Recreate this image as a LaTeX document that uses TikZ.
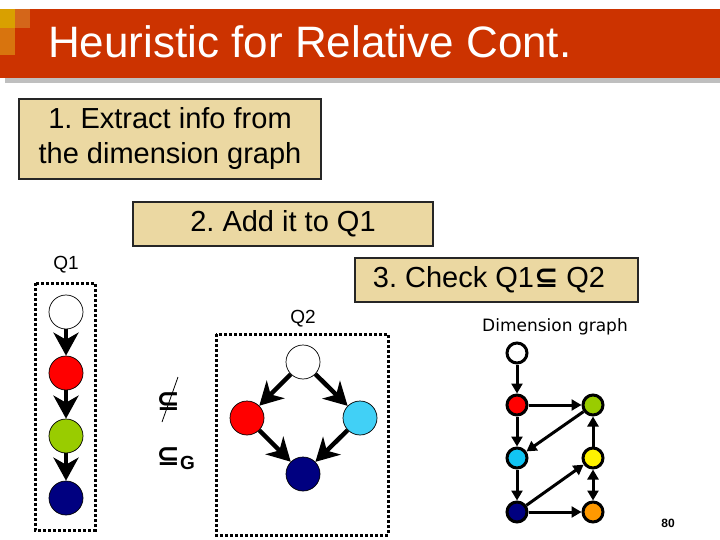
\documentclass[tikz,border=0pt]{standalone}
\usepackage{fontspec}
\setmainfont{Liberation Sans}
\newfontfamily\symfont{DejaVu Sans}
\usetikzlibrary{arrows.meta}
\definecolor{titlered}{HTML}{CC3300}
\definecolor{sqgold}{HTML}{D9A000}
\definecolor{sqorange}{HTML}{D4661A}
\definecolor{sqorange2}{HTML}{D8740E}
\definecolor{boxtan}{HTML}{EBD8A2}
\definecolor{dgreen}{HTML}{99CC00}
\definecolor{dcyan}{HTML}{11C4F4}
\definecolor{dnavy}{HTML}{000080}
\definecolor{dorange}{HTML}{FF9900}
\tikzset{
  stepbox/.style={draw=black!85, line width=1.2pt, fill=boxtan, inner sep=0pt, align=center, font=\frenchspacing\fontsize{29}{35}\selectfont},
  steptext/.style={inner sep=0pt, font=\frenchspacing\fontsize{29}{35}\selectfont},
  bigdot/.style={circle, draw=black, line width=0.7pt, minimum size=34pt, inner sep=0pt},
  smalldot/.style={circle, draw=black, line width=3pt, minimum size=20pt, inner sep=0pt},
  bigarrow/.style={line width=4.5pt, -{Stealth[length=23pt 0,width=25pt 0,inset=7pt 0]}},
  dimarrow/.style={line width=3pt, -{Triangle[length=10pt,width=11pt]}},
  dimarrow2/.style={line width=3pt, {Triangle[length=10pt,width=11pt]}-{Triangle[length=10pt,width=11pt]}},
  dottedframe/.style={line width=3pt, dash pattern=on 3pt off 2pt},
  lbl/.style={inner sep=0pt, font=\fontsize{19}{22}\selectfont},
  relsym/.style={inner sep=0pt, font=\symfont\bfseries\fontsize{28}{32}\selectfont}
}
\begin{document}
\begin{tikzpicture}[x=1pt,y=-1pt]
\useasboundingbox (0,0) rectangle (720,540);
% title bar
\fill[black!25] (5,78) rectangle (720,83);
\fill[titlered] (0,9) rectangle (720,78);
\fill[sqgold] (0,9) rectangle (15,28);
\fill[sqorange] (15,9) rectangle (30,28);
\fill[sqorange2] (0,28) rectangle (15,55);
\node[anchor=base west, inner sep=0pt, text=white, font=\fontsize{44}{50}\selectfont] (title) at (48,58) {Heuristic for Relative Cont.};
% step boxes
\node[stepbox, minimum width=302pt, minimum height=80pt] (s1) at (170,139) {1. Extract info from\\the dimension graph};
\node[stepbox, minimum width=300pt, minimum height=44pt] (s2) at (283,224) {2. Add it to Q1};
\node[stepbox, minimum width=283pt, minimum height=44pt] (s3) at (496.5,280) {};
\node[steptext] (s3t) at (489,280) {3. Check Q1{\symfont\bfseries ⊆} Q2};
% Q1
\node[lbl] (q1lbl) at (66,265) {Q1};
\draw[dottedframe] (35,283) rectangle (95,530);
\node[bigdot, fill=white] (a1) at (66,312) {};
\node[bigdot, fill=red] (a2) at (66,373) {};
\node[bigdot, fill=dgreen] (a3) at (66,436) {};
\node[bigdot, fill=dnavy] (a4) at (66,498) {};
\draw[bigarrow] (a1) -- (a2);
\draw[bigarrow] (a2) -- (a3);
\draw[bigarrow] (a3) -- (a4);
% relations
\node[relsym] (nsub) at (168,402) {⊆};
\coordinate (sl1) at (178,377);
\coordinate (sl2) at (162,422);
\draw[line width=0.8pt] (sl1) -- (sl2);
\node[relsym] (subg) at (168,457) {⊆};
\node[anchor=west, inner sep=0pt, font=\bfseries\fontsize{19}{22}\selectfont] (gsub) at (180,463) {G};
% Q2
\node[lbl] (q2lbl) at (303,319) {Q2};
\draw[dottedframe] (216,334) rectangle (388,535);
\node[bigdot, fill=white] (b1) at (303,362) {};
\node[bigdot, fill=red] (b2) at (247,418) {};
\node[bigdot, fill=dcyan!80!white] (b3) at (360,418) {};
\node[bigdot, fill=dnavy] (b4) at (303,474) {};
\draw[bigarrow] (b1) -- (b2);
\draw[bigarrow] (b1) -- (b3);
\draw[bigarrow] (b2) -- (b4);
\draw[bigarrow] (b3) -- (b4);
% dimension graph
\node[inner sep=0pt, font=\symfont\fontsize{17}{20}\selectfont] (dglbl) at (555,327) {Dimension graph};
\node[smalldot, fill=white] (d1) at (517,353) {};
\node[smalldot, fill=red] (d2) at (517,405) {};
\node[smalldot, fill=dgreen] (d3) at (593,405) {};
\node[smalldot, fill=dcyan] (d4) at (517,458) {};
\node[smalldot, fill=yellow] (d5) at (593,458) {};
\node[smalldot, fill=dnavy] (d6) at (517,512) {};
\node[smalldot, fill=dorange] (d7) at (593,512) {};
\draw[dimarrow] (d1) -- (d2);
\draw[dimarrow] (d2) -- (d3);
\draw[dimarrow] (d2) -- (d4);
\draw[dimarrow] (d3) -- (d4);
\draw[dimarrow] (d4) -- (d6);
\draw[dimarrow] (d6) -- (d5);
\draw[dimarrow] (d5) -- (d3);
\draw[dimarrow2] (d5) -- (d7);
\draw[dimarrow] (d6) -- (d7);
% page number
\node[inner sep=0pt, font=\bfseries\fontsize{12}{14}\selectfont] (pg) at (668,523) {80};
\end{tikzpicture}
\end{document}
